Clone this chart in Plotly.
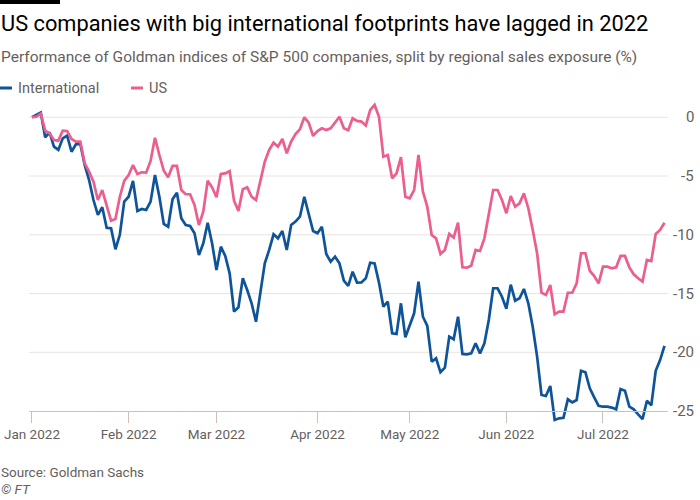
import pandas as pd
import plotly.graph_objects as go

# ---- data ----
international = [0, 0.22, 0.4, -1.7, -1.28, -2.5, -2.78, -1.79, -1.56, -2.93,
    -2.3, -2.27, -4.06, -5.34, -7.04, -8.31, -7.66, -9.4, -9.45, -11.23,
    -10.0, -7.18, -6.76, -5.42, -7.97, -7.8, -7.89, -7.18, -4.91, -6.76,
    -9.08, -9.31, -6.98, -6.42, -8.6, -9.17, -9.25, -9.87, -11.72, -10.72,
    -8.97, -10.72, -13.0, -11.01, -11.8, -13.28, -16.54, -16.17, -13.7, -14.7,
    -15.83, -17.4, -14.98, -12.43, -11.29, -9.96, -10.3, -9.68, -11.29, -9.17,
    -8.88, -8.46, -6.76, -8.31, -9.68, -9.87, -9.31, -11.63, -12.29, -11.86,
    -12.43, -13.9, -14.35, -13.14, -14.07, -14.05, -13.7, -12.37, -12.43, -14.07,
    -16.12, -15.69, -18.38, -18.44, -15.83, -18.72, -17.68, -16.68, -13.99, -16.97,
    -17.76, -20.8, -20.51, -21.7, -21.31, -18.67, -18.89, -16.97, -20.14, -20.17,
    -20.09, -19.23, -20.09, -19.23, -17.25, -14.55, -14.55, -15.27, -16.3, -14.24,
    -15.61, -15.4, -14.61, -15.83, -17.82, -20.37, -23.63, -23.72, -22.87, -25.76,
    -25.62, -25.57, -24.0, -24.26, -24.06, -21.57, -21.7, -23.06, -23.83, -24.55,
    -24.63, -24.63, -24.7, -24.85, -23.12, -23.27, -24.63, -24.85, -25.28, -25.68,
    -24.12, -24.51, -21.57, -20.66, -19.46]

us = [0, 0.05, 0.3, -1.14, -1.36, -1.93, -1.99, -1.14, -1.17, -1.85,
    -2.07, -2.07, -3.92, -4.63, -5.48, -7.04, -6.19, -7.55, -8.8, -8.66,
    -6.76, -5.42, -4.91, -4.06, -4.83, -4.68, -4.71, -3.72, -1.74, -3.21,
    -4.54, -5.11, -4.14, -4.14, -6.19, -6.55, -6.55, -7.46, -9.17, -8.03,
    -5.4, -5.96, -6.81, -4.83, -4.77, -4.57, -7.1, -7.97, -6.13, -5.96,
    -6.76, -7.04, -5.48, -3.78, -2.78, -2.16, -2.5, -1.85, -3.06, -2.07,
    -1.42, -1.02, 0.0, -0.46, -1.59, -1.17, -0.94, -1.08, -0.94, -0.46,
    0.05, -0.94, -1.1, -0.09, -0.31, -0.37, -0.71, 0.62, 1.05, 0.05,
    -3.35, -3.21, -5.19, -4.77, -3.4, -6.76, -6.89, -6.19, -3.21, -6.33,
    -7.61, -10.02, -10.3, -11.63, -11.29, -9.93, -10.24, -8.97, -12.77, -12.8,
    -12.63, -11.29, -11.38, -10.3, -8.17, -6.19, -6.19, -7.04, -8.17, -6.7,
    -7.61, -7.32, -6.47, -7.74, -9.59, -11.57, -14.93, -15.12, -14.27, -16.77,
    -16.54, -16.54, -14.93, -14.93, -14.13, -11.57, -11.57, -13.06, -13.51, -14.13,
    -12.71, -12.71, -12.85, -12.77, -11.8, -11.8, -12.77, -13.36, -13.7, -13.99,
    -12.14, -12.23, -9.93, -9.59, -8.97]

dates = [d.strftime("%Y-%m-%d") for d in pd.bdate_range("2021-12-31", periods=len(us))]

x_tick_vals = ["2021-12-31", "2022-02-01", "2022-03-01", "2022-04-01",
               "2022-05-02", "2022-06-01", "2022-07-01"]
x_tick_text = ["Jan 2022", "Feb 2022", "Mar 2022", "Apr 2022",
               "May 2022", "Jun 2022", "Jul 2022"]
y_tick_vals = [0, -5, -10, -15, -20, -25]

title = "US companies with big international footprints have lagged in 2022"
subtitle = "Performance of Goldman indices of S&P 500 companies, split by regional sales exposure (%)"
source = "Source: Goldman Sachs"

BLUE = "#0f5499"
PINK = "#eb5e8d"
GREY = "#66605c"
GRID = "#e9e3dd"
FONT = "Roboto"

# ---- layout geometry (pixels) ----
W, H = 700, 500
L, R, T, B = 29, 32, 100, 76
pw, ph = W - L - R, H - T - B
Y0, Y1 = -26.1, 1.47


def px(xp):
    return (xp - L) / pw


def py(yp):
    return (H - B - yp) / ph


fig = go.Figure()
fig.add_trace(go.Scatter(x=dates, y=international, mode="lines", name="International",
                         line=dict(color=BLUE, width=2.7), showlegend=False))
fig.add_trace(go.Scatter(x=dates, y=us, mode="lines", name="US",
                         line=dict(color=PINK, width=2.7), showlegend=False))

fig.update_layout(
    width=W, height=H,
    margin=dict(l=L, r=R, t=T, b=B, autoexpand=False),
    paper_bgcolor="white", plot_bgcolor="white",
    font=dict(family=FONT, color=GREY),
    xaxis=dict(type="category", range=[-0.68, len(us) - 0.2],
               anchor="free", position=(-25 - Y0) / (Y1 - Y0), automargin=False,
               showgrid=False, zeroline=False,
               showline=True, linecolor="#ccc1b7", linewidth=1,
               ticks="outside", ticklen=11, tickcolor="#ccc1b7", tickwidth=1,
               tickmode="array", tickvals=x_tick_vals, ticktext=x_tick_text,
               tickfont=dict(size=13.5, color=GREY, family=FONT)),
    yaxis=dict(range=[Y0, Y1], showgrid=False, zeroline=False, automargin=False,
               showticklabels=False, ticks=""),
)

# horizontal gridlines
for v in y_tick_vals[:-1]:
    fig.add_shape(type="line", xref="paper", yref="y", x0=0, x1=1, y0=v, y1=v,
                  line=dict(color=GRID, width=1), layer="below")

# right-aligned y tick labels
for v in y_tick_vals:
    fig.add_annotation(xref="paper", yref="y", x=px(696), y=v, text=str(v),
                       showarrow=False, xanchor="right", yanchor="middle",
                       font=dict(size=15, color=GREY, family=FONT))

# top black bar
fig.add_shape(type="rect", xref="paper", yref="paper", x0=px(0), x1=px(60),
              y0=py(4), y1=py(0), fillcolor="black", line=dict(width=0))

# title / subtitle
fig.add_annotation(xref="paper", yref="paper", x=px(-1), y=py(23), text=title,
                   showarrow=False, xanchor="left", yanchor="middle",
                   font=dict(size=21.8, color="#000000", family=FONT))
fig.add_annotation(xref="paper", yref="paper", x=px(-1), y=py(57), text=subtitle,
                   showarrow=False, xanchor="left", yanchor="middle",
                   font=dict(size=15.5, color=GREY, family=FONT))

# legend
for name, col, x0 in [("International", BLUE, 0), ("US", PINK, 131)]:
    fig.add_shape(type="line", xref="paper", yref="paper", x0=px(x0), x1=px(x0 + 12),
                  y0=py(88), y1=py(88), line=dict(color=col, width=3))
    fig.add_annotation(xref="paper", yref="paper", x=px(x0 + 16), y=py(88), text=name,
                       showarrow=False, xanchor="left", yanchor="middle",
                       font=dict(size=14.5, color=GREY, family=FONT))

# footer
fig.add_annotation(xref="paper", yref="paper", x=px(-1), y=py(472), text=source,
                   showarrow=False, xanchor="left", yanchor="middle",
                   font=dict(size=13.5, color=GREY, family=FONT))
fig.add_annotation(xref="paper", yref="paper", x=px(-1), y=py(489), text="<i>© FT</i>",
                   showarrow=False, xanchor="left", yanchor="middle",
                   font=dict(size=13.5, color=GREY, family=FONT))

fig.write_html("out.html", config={"displayModeBar": False},
               post_script="document.body.style.margin='0';")
